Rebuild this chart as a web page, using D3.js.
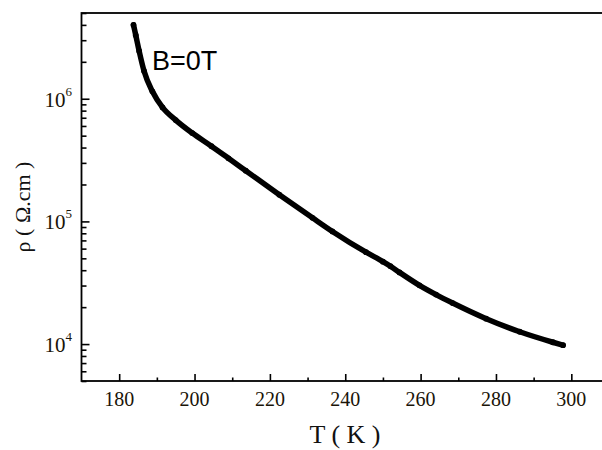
<!DOCTYPE html>
<html>
<head>
<meta charset="utf-8">
<script src="https://cdn.jsdelivr.net/npm/d3@7"></script>
<style>
  html, body { margin: 0; padding: 0; background: #fff; overflow: hidden; }
  svg { display: block; }
</style>
</head>
<body>
<svg id="chart" width="602" height="450"></svg>
<script>
// Temperature (K)
const temperature = [183.8, 184.4, 185.3, 186.6, 188.8, 191.5, 195.0, 199.4, 204.5, 209.0,
  213.6, 222.5, 231.3, 236.6, 245.5, 250.0, 252.0, 254.4, 259.7, 264.1, 268.5,
  277.4, 286.3, 295.1, 297.8];
// Resistivity (Ohm.cm)
const resistivity = [4.0e6, 3.3e6, 2.45e6, 1.68e6, 1.15e6, 8.5e5, 6.7e5, 5.25e5, 4.1e5, 3.27e5,
  2.59e5, 1.65e5, 1.07e5, 8.28e4, 5.61e4, 4.7e4, 4.31e4, 3.84e4, 3.01e4, 2.53e4, 2.16e4,
  1.61e4, 1.26e4, 1.035e4, 9.8e3];
const xTicks = [180, 200, 220, 240, 260, 280, 300];
const xMinorTicks = [190, 210, 230, 250, 270, 290, 310];
const yTicks = [1e4, 1e5, 1e6];
const yTickExponents = ["4", "5", "6"];
const seriesLabel = "B=0T";
const xTitle = "T ( K )";
const yTitle = "ρ ( Ω.cm )";

const svg = d3.select("#chart");
const mLeft = 81.5, mRight = 609, mTop = 13, mBottom = 381;

const x = d3.scaleLinear().domain([170, 310]).range([mLeft, mRight]);
const y = d3.scaleLog().domain([5e3, 5e6]).range([mBottom, mTop]);

const data = temperature.map((t, i) => ({ t, r: resistivity[i] }));

// minor y ticks
const yMinor = [];
for (let e = 3; e <= 6; e++) {
  for (let m = 2; m <= 9; m++) {
    const v = m * Math.pow(10, e);
    if (v >= 5e3 && v <= 5e6) yMinor.push(v);
  }
}

const axisColor = "#000";
const g = svg.append("g");

const yAxisMajor = d3.axisLeft(y).tickValues(yTicks).tickSizeInner(-8).tickSizeOuter(0).tickFormat("");
const yAxisMinor = d3.axisLeft(y).tickValues(yMinor).tickSizeInner(-5).tickSizeOuter(0).tickFormat("");
g.append("g").attr("transform", `translate(${mLeft},0)`).call(yAxisMinor)
  .call(s => s.select(".domain").remove())
  .call(s => s.selectAll("line").attr("stroke", axisColor).attr("stroke-width", 1.6));
g.append("g").attr("transform", `translate(${mLeft},0)`).call(yAxisMajor)
  .call(s => s.select(".domain").remove())
  .call(s => s.selectAll("line").attr("stroke", axisColor).attr("stroke-width", 1.6));

const xAxisMajor = d3.axisBottom(x).tickValues(xTicks).tickSizeInner(-7).tickSizeOuter(0).tickFormat("");
const xAxisMinor = d3.axisBottom(x).tickValues(xMinorTicks).tickSizeInner(-3.5).tickSizeOuter(0).tickFormat("");
g.append("g").attr("transform", `translate(0,${mBottom})`).call(xAxisMinor)
  .call(s => s.select(".domain").remove())
  .call(s => s.selectAll("line").attr("stroke", axisColor).attr("stroke-width", 1.6));
g.append("g").attr("transform", `translate(0,${mBottom})`).call(xAxisMajor)
  .call(s => s.select(".domain").remove())
  .call(s => s.selectAll("line").attr("stroke", axisColor).attr("stroke-width", 1.6));

svg.append("rect")
  .attr("x", mLeft).attr("y", mTop)
  .attr("width", mRight - mLeft).attr("height", mBottom - mTop)
  .attr("fill", "none").attr("stroke", axisColor).attr("stroke-width", 1.8);

svg.append("g").selectAll("text").data(xTicks).join("text")
  .attr("x", d => x(d)).attr("y", 406)
  .attr("text-anchor", "middle")
  .attr("font-family", "'Liberation Serif', 'Times New Roman', serif")
  .attr("font-size", 20)
  .attr("fill", "#1a1408")
  .text(d => d);

const yl = svg.append("g").selectAll("text").data(yTicks).join("text")
  .attr("x", 72).attr("y", d => y(d) + 8)
  .attr("text-anchor", "end")
  .attr("font-family", "'Liberation Serif', 'Times New Roman', serif")
  .attr("font-size", 21)
  .attr("fill", "#1a1408");
yl.append("tspan").text("10");
yl.append("tspan").attr("font-size", 13).attr("dy", -11).text((d, i) => yTickExponents[i]);

svg.append("text")
  .attr("x", 345).attr("y", 443)
  .attr("text-anchor", "middle")
  .attr("font-family", "'Liberation Serif', 'Times New Roman', serif")
  .attr("font-size", 26)
  .attr("fill", "#111")
  .text(xTitle);

svg.append("text")
  .attr("transform", `translate(30,207) rotate(-90)`)
  .attr("text-anchor", "middle")
  .attr("font-family", "'Liberation Serif', 'Times New Roman', serif")
  .attr("font-size", 22)
  .attr("fill", "#111")
  .text(yTitle);

const line = d3.line().x(d => x(d.t)).y(d => y(d.r)).curve(d3.curveMonotoneX);
svg.append("path").datum(data)
  .attr("d", line)
  .attr("fill", "none").attr("stroke", "#000")
  .attr("stroke-width", 5.5).attr("stroke-linecap", "round");
svg.append("g").selectAll("circle").data(data).join("circle")
  .attr("cx", d => x(d.t)).attr("cy", d => y(d.r)).attr("r", 2.9)
  .attr("fill", "#000");

svg.append("text")
  .attr("x", 152).attr("y", 70)
  .attr("font-family", "'Liberation Sans', Arial, sans-serif")
  .attr("font-size", 27)
  .attr("fill", "#000")
  .text(seriesLabel);
</script>
</body>
</html>
